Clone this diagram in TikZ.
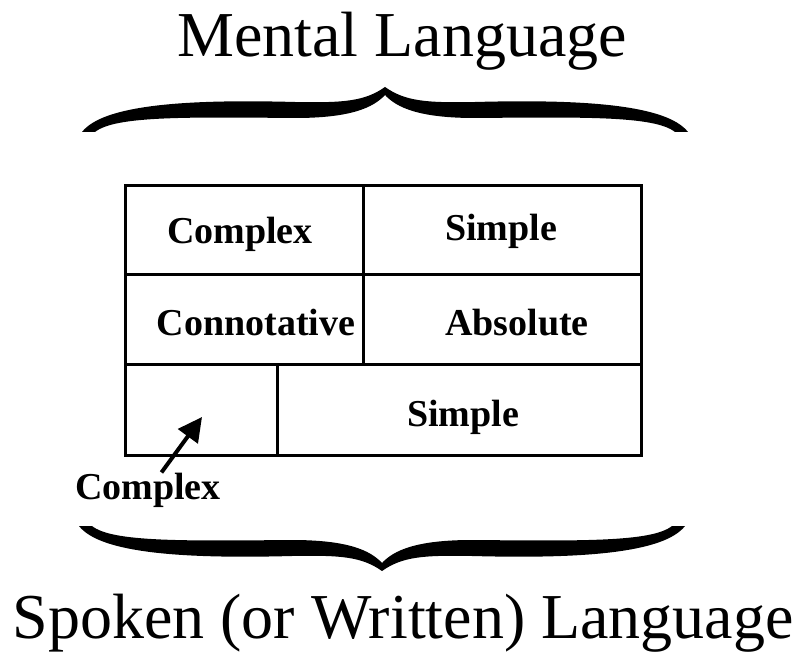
\documentclass[tikz,border=0pt]{standalone}
\usepackage{fontspec}
\setmainfont{Liberation Serif}
\usetikzlibrary{arrows.meta}

\tikzset{
  heading/.style={font=\fontsize{64}{72}\selectfont, inner sep=0pt, anchor=base},
  cell/.style={font=\fontsize{38}{44}\selectfont\bfseries, inner sep=1pt, anchor=base},
  grid/.style={line width=3pt},
  curlybrace/.pic={
    \fill (0,0) .. controls (-20,14) and (-40,16) .. (-90,15)
      .. controls (-200,12) and (-282,18) .. (-303,45)
      -- (-290,45)
      .. controls (-270,29) and (-200,30) .. (-90,31)
      .. controls (-35,31) and (-12,21) .. (0,8)
      .. controls (12,21) and (35,31) .. (90,31)
      .. controls (200,30) and (270,29) .. (290,45)
      -- (303,45)
      .. controls (282,18) and (200,12) .. (90,15)
      .. controls (40,16) and (20,14) .. (0,0) -- cycle;
  }
}

\begin{document}
\begin{tikzpicture}[x=1pt,y=-1pt]
  \useasboundingbox (0,0) rectangle (796,652);

  % --- table edges (px)
  \def\L{125}   % left
  \def\R{641}   % right
  \def\T{186}   % top
  \def\B{456}   % bottom
  \def\ra{275}  % first row line
  \def\rb{365}  % second row line
  \def\ca{363}  % column line, rows 1-2
  \def\cb{277}  % column line, row 3

  %---------------------------------------
  % headings and braces
  \node[heading] (mental) at (402,57) {Mental Language};
  \pic at (385,87) {curlybrace};

  \pic[yscale=-1] at (382,571) {curlybrace};
  \node[heading] (spoken) at (403,638) {Spoken (or Written) Language};

  %---------------------------------------
  % table grid
  \draw[grid] (\L,\T) rectangle (\R,\B);
  \draw[grid] (\L,\ra) -- (\R,\ra);
  \draw[grid] (\L,\rb) -- (\R,\rb);
  \draw[grid] (\ca,\T) -- (\ca,\rb);
  \draw[grid] (\cb,\rb) -- (\cb,\B);

  % cell labels
  \node[cell] (cplx) at (240,244) {Complex};
  \node[cell] (simp) at (501,241) {Simple};
  \node[cell] (conn) at (256,336) {Connotative};
  \node[cell] (abso) at (517,336) {Absolute};
  \node[cell] (simpb) at (463,427) {Simple};

  %---------------------------------------
  % pointer into the empty cell
  \node[cell] (cplxb) at (148,500) {Complex};
  \coordinate (empty) at (202,417);
  \draw[line width=4pt, -{Triangle[length=24pt,width=24pt]}] (cplxb) -- (empty);
\end{tikzpicture}
\end{document}
